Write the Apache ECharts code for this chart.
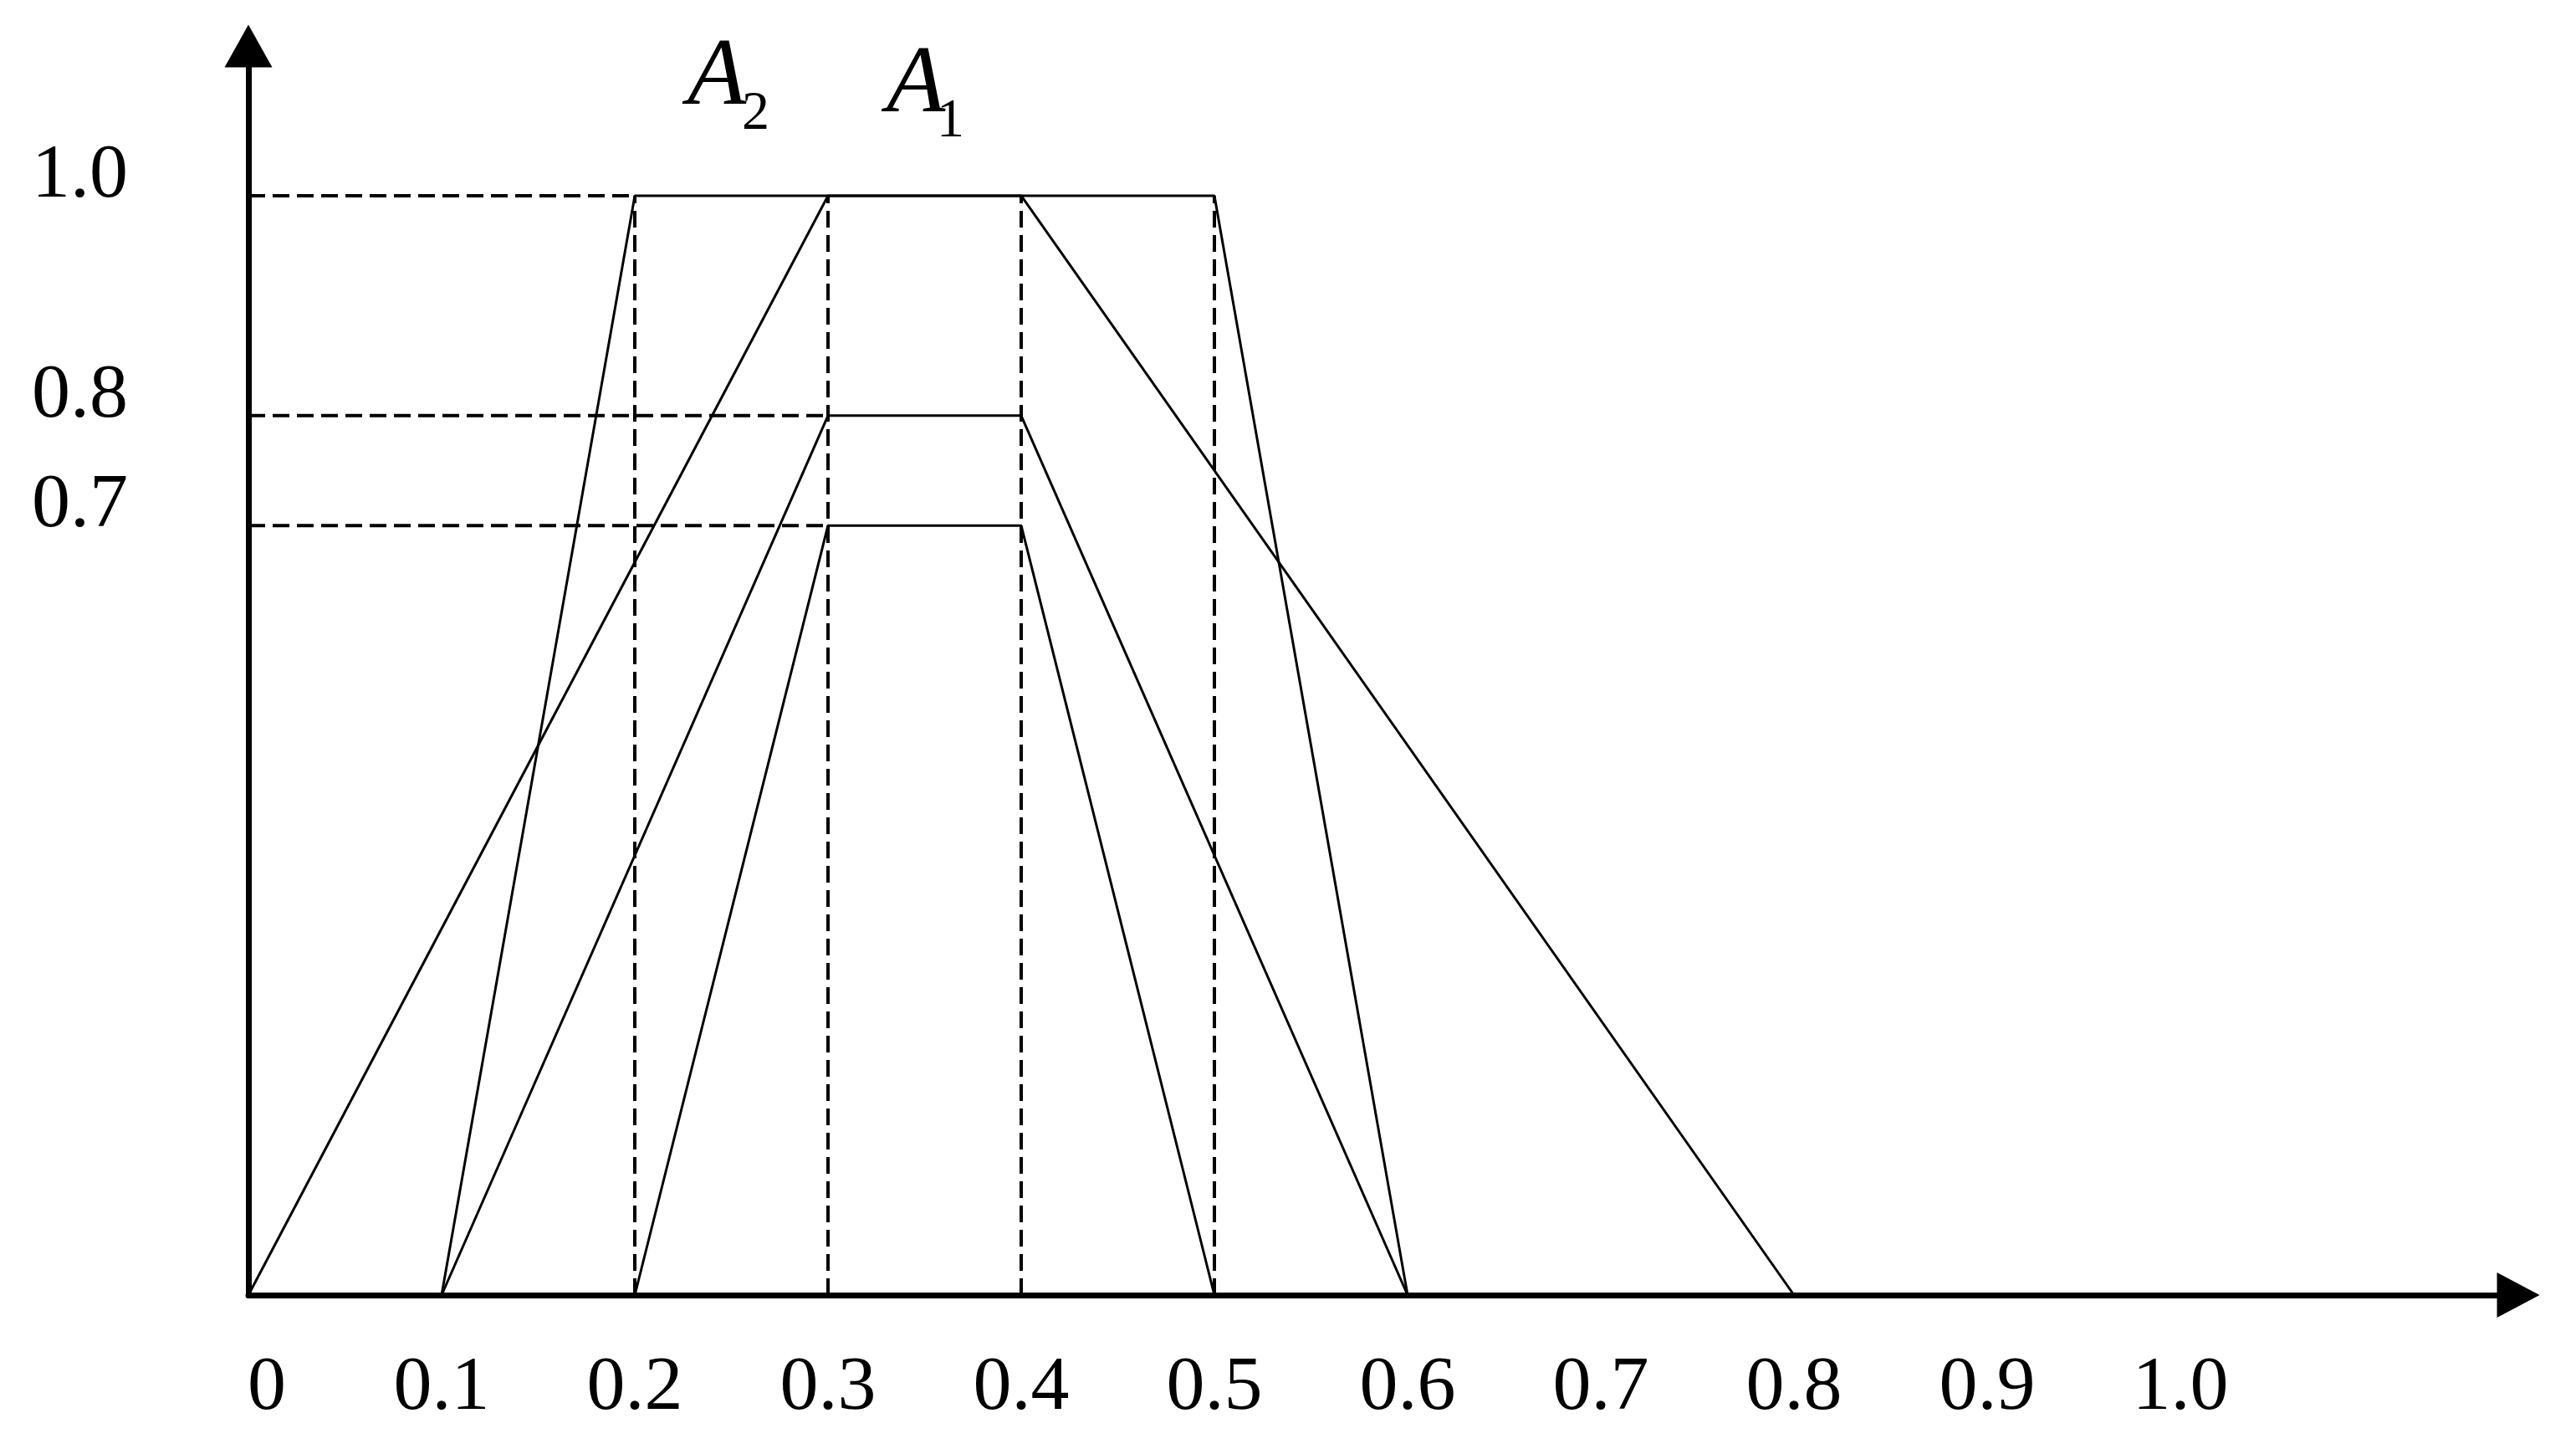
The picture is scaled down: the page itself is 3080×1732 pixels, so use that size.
<!DOCTYPE html>
<html>
<head>
<meta charset="utf-8">
<script src="https://cdn.jsdelivr.net/npm/echarts@6/dist/echarts.min.js"></script>
<style>
html,body{margin:0;padding:0;background:#ffffff;}
#chart{width:3080px;height:1732px;}
</style>
</head>
<body>
<div id="chart"></div>
<script>
// ---- data ----
const xTickValues = [0, 0.1, 0.2, 0.3, 0.4, 0.5, 0.6, 0.7, 0.8, 0.9, 1.0];
const yTickValues = [0.7, 0.8, 1.0];

// membership functions (x, membership)
const A2 = [[0.1, 0], [0.2, 1.0], [0.5, 1.0], [0.6, 0]];
const A1 = [[0, 0], [0.3, 1.0], [0.4, 1.0], [0.8, 0]];
const cut08 = [[0.1, 0], [0.3, 0.8], [0.4, 0.8], [0.6, 0]];
const cut07 = [[0.2, 0], [0.3, 0.7], [0.4, 0.7], [0.5, 0]];

// dashed guides
const hGuideLevels = [1.0, 0.8, 0.7];
const hGuideEnds = [0.2, 0.3, 0.3];
const vGuideX = [0.2, 0.3, 0.4, 0.5];
const vGuideTop = 1.0;

// ---- chart ----
const FONT = 'Liberation Serif, Times New Roman, serif';
const solid = { color: '#000', width: 3, type: 'solid' };
const dashed = { color: '#000', width: 4, type: [20, 9] };

function lineSeries(name, data, style) {
  return {
    name: name, type: 'line', data: data, showSymbol: false, symbol: 'none',
    lineStyle: style, silent: true, animation: false, z: 3
  };
}

const series = [];
hGuideLevels.forEach((lv, i) => {
  series.push(lineSeries('h' + i, [[0, lv], [hGuideEnds[i], lv]], dashed));
});
vGuideX.forEach((x, i) => {
  series.push(lineSeries('v' + i, [[x, 0], [x, vGuideTop]], dashed));
});
series.push(lineSeries('A2', A2, solid));
series.push(lineSeries('A1', A1, solid));
series.push(lineSeries('cut0.8', cut08, solid));
series.push(lineSeries('cut0.7', cut07, solid));

const chart = echarts.init(document.getElementById('chart'), null, { renderer: 'canvas' });
chart.setOption({
  backgroundColor: '#ffffff',
  animation: false,
  grid: { left: 297, right: 69, top: 55, bottom: 184, containLabel: false },
  xAxis: {
    type: 'value', min: 0, max: 1.1749, interval: 0.1,
    axisLine: { show: true, onZero: false, symbol: ['none', 'triangle'], symbolSize: [54, 51],
      lineStyle: { color: '#000', width: 7 } },
    axisTick: { show: false },
    splitLine: { show: false },
    axisLabel: {
      show: true, customValues: xTickValues, margin: 66,
      color: '#000', fontFamily: FONT, fontSize: 92,
      formatter: v => (v === 0 ? '{z|0}' : v.toFixed(1)),
      rich: { z: { padding: [0, 0, 0, 44], color: '#000', fontFamily: FONT, fontSize: 92 } }
    }
  },
  yAxis: {
    type: 'value', min: 0, max: 1.1362, interval: 0.1,
    axisLine: { show: true, onZero: false, symbol: ['none', 'triangle'], symbolSize: [57, 51],
      lineStyle: { color: '#000', width: 7 } },
    axisTick: { show: false },
    splitLine: { show: false },
    axisLabel: {
      show: true, customValues: yTickValues, margin: 144,
      color: '#000', fontFamily: FONT, fontSize: 92,
      formatter: v => '{l|' + v.toFixed(1) + '}',
      rich: { l: { padding: [0, 0, 46, 0], color: '#000', fontFamily: FONT, fontSize: 92 } }
    }
  },
  series: series,
  graphic: [
    { type: 'text', left: 822, top: 36, style: { text: 'A', fontFamily: FONT, fontSize: 115, fontStyle: 'italic', fill: '#000' } },
    { type: 'text', left: 887, top: 104, style: { text: '2', fontFamily: FONT, fontSize: 66, fill: '#000' } },
    { type: 'text', left: 1060, top: 45, style: { text: 'A', fontFamily: FONT, fontSize: 115, fontStyle: 'italic', fill: '#000' } },
    { type: 'text', left: 1120, top: 113, style: { text: '1', fontFamily: FONT, fontSize: 66, fill: '#000' } }
  ]
});
</script>
</body>
</html>
